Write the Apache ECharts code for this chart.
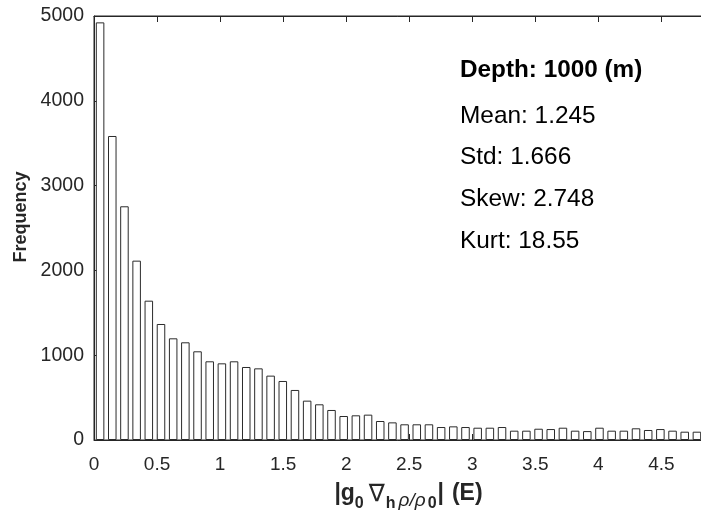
<!DOCTYPE html>
<html>
<head>
<meta charset="utf-8">
<script src="https://cdn.jsdelivr.net/npm/echarts@6/dist/echarts.min.js"></script>
<style>
  html, body { margin: 0; padding: 0; background: #fff; }
  #main { width: 701px; height: 512px; }
</style>
</head>
<body>
<div id="main"></div>
<script>
// histogram counts, 50 bins from 0 to xMax
var counts = [
    4925, 3585, 2756, 2115, 1643, 1368, 1199, 1152, 1046, 928,
    904, 928, 861, 845, 759, 696, 590, 464, 421, 354,
    283, 291, 299, 224, 208, 185, 185, 185, 153, 161,
    153, 145, 145, 153, 110, 110, 133, 129, 145, 110,
    105, 145, 110, 110, 138, 118, 129, 110, 98, 98
]
var xMax = 4.83
var xTicks = [0, 0.5, 1, 1.5, 2, 2.5, 3, 3.5, 4, 4.5]
var yTicks = [0, 1000, 2000, 3000, 4000, 5000]
var depthLabel = 'Depth: 1000 (m)'
var statLines = ['Mean: 1.245', 'Std: 1.666', 'Skew: 2.748', 'Kurt: 18.55']

var binWidth = xMax / counts.length
var bins = counts.map(function (c, i) { return ((i + 0.5) * binWidth).toFixed(3) })

var font = "'Liberation Sans', Arial, Helvetica, sans-serif"
var axisColor = '#262626'

var tickStyle = { show: true, inside: true, length: 6, lineStyle: { color: axisColor } }

var graphics = [{
    type: 'text',
    x: 460, y: 70,
    style: { text: depthLabel, fill: '#000', fontSize: 24.3, fontWeight: 'bold', fontFamily: font, verticalAlign: 'middle' }
}]
statLines.forEach(function (t, i) {
    graphics.push({
        type: 'text',
        x: 460, y: 116 + i * 41.7,
        style: { text: t, fill: '#000', fontSize: 24.4, fontFamily: font, verticalAlign: 'middle' }
    })
})

var chartDom = document.getElementById('main')
var myChart = echarts.init(chartDom)
var option = {
    animation: false,
    backgroundColor: '#fff',
    textStyle: { fontFamily: font },
    grid: {
        left: 94, right: -2, top: 16, bottom: 72,
        show: true, borderColor: axisColor, borderWidth: 1,
        outerBoundsMode: 'none'
    },
    xAxis: [
        {
            type: 'category',
            data: bins,
            show: false,
            boundaryGap: true
        },
        {
            type: 'value',
            position: 'bottom',
            min: 0, max: xMax, interval: 0.5,
            axisLine: { show: true, lineStyle: { color: axisColor } },
            axisTick: tickStyle,
            splitLine: { show: false },
            axisLabel: {
                color: axisColor, fontSize: 19, margin: 15, showMaxLabel: false,
                formatter: function (v) { return xTicks.indexOf(v) >= 0 ? String(v) : '' }
            },
            name: '{b||g}{s|0}{n|∇}{s|h}{r|ρ/ρ}{z|0}{b||}{e|(E)}',
            nameLocation: 'middle',
            nameGap: 37,
            nameTextStyle: {
                padding: [0, 0, 0, 20],
                rich: {
                    b: { fontSize: 23, fontWeight: 'bold', color: axisColor, fontFamily: font, lineHeight: 26, verticalAlign: 'top' },
                    e: { fontSize: 23, fontWeight: 'bold', color: axisColor, fontFamily: font, lineHeight: 26, verticalAlign: 'top', padding: [0, 0, 0, 8] },
                    n: { fontSize: 24, color: axisColor, fontFamily: 'DejaVu Sans', lineHeight: 26, verticalAlign: 'top', padding: [0, 1, 0, 5] },
                    s: { fontSize: 16, fontWeight: 'bold', color: axisColor, fontFamily: font, lineHeight: 15, padding: [17, 0, 0, 0] },
                    z: { fontSize: 16, fontWeight: 'bold', color: axisColor, fontFamily: font, lineHeight: 15, padding: [17, 1, 0, 0] },
                    r: { fontSize: 19, color: axisColor, fontFamily: font, fontStyle: 'italic', lineHeight: 16, padding: [11, 2, 0, 3] }
                }
            }
        },
        {
            type: 'value',
            position: 'top',
            min: 0, max: xMax, interval: 0.5,
            axisLine: { show: true, lineStyle: { color: axisColor } },
            axisTick: tickStyle,
            splitLine: { show: false },
            axisLabel: { show: false }
        }
    ],
    yAxis: [
        {
            type: 'value',
            min: yTicks[0], max: yTicks[yTicks.length - 1], interval: 1000,
            axisLine: { show: true, lineStyle: { color: axisColor } },
            axisTick: tickStyle,
            splitLine: { show: false },
            axisLabel: {
                color: axisColor, fontSize: 19.5, margin: 10,
                formatter: function (v) { return String(v) }
            },
            name: 'Frequency',
            nameLocation: 'middle',
            nameGap: 60,
            nameTextStyle: { color: axisColor, fontSize: 18, fontWeight: 'bold', padding: [0, 0, 0, 22] }
        }
    ],
    series: [
        {
            type: 'bar',
            xAxisIndex: 0,
            data: counts,
            barCategoryGap: '30%',
            itemStyle: { color: '#fff', borderColor: '#2b2b2b', borderWidth: 1 }
        }
    ],
    graphic: graphics
}
option && myChart.setOption(option)
</script>
</body>
</html>
